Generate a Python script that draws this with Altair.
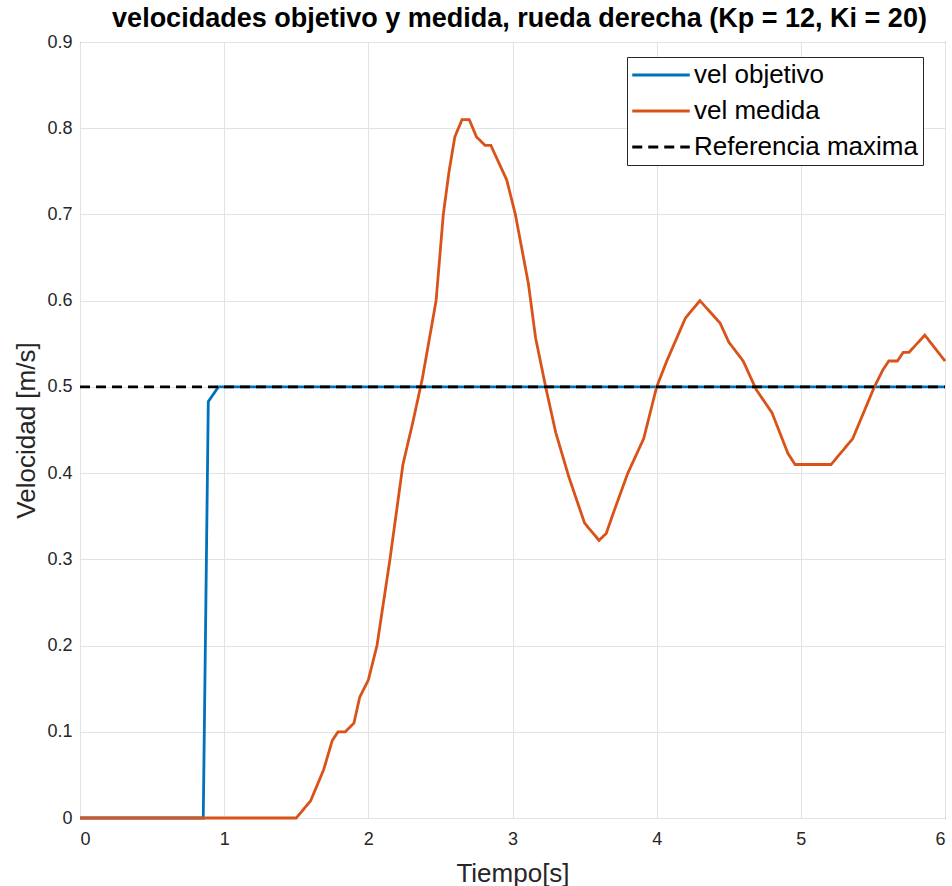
import altair as alt
import pandas as pd

# ---- data ----
series_names = ["vel objetivo", "vel medida", "Referencia maxima"]
series_colors = ["#0072BD", "#D95319", "#000000"]

t_objetivo = [0.0, 0.855, 0.89, 0.96, 6.0]
v_objetivo = [0.0, 0.0, 0.483, 0.5, 0.5]

t_medida = [0.0, 1.5, 1.6, 1.69, 1.75, 1.79, 1.84, 1.9, 1.94, 2.0, 2.06, 2.15,
            2.24, 2.31, 2.375, 2.47, 2.52, 2.56, 2.60, 2.65, 2.70, 2.75, 2.81,
            2.85, 2.96, 3.02, 3.11, 3.16, 3.23, 3.30, 3.39, 3.5, 3.6, 3.65, 3.70,
            3.80, 3.91, 4.0, 4.07, 4.2, 4.3, 4.44, 4.5, 4.6, 4.69, 4.80, 4.91,
            4.96, 5.21, 5.36, 5.51, 5.57, 5.61, 5.67, 5.71, 5.75, 5.86, 6.0]
v_medida = [0.0, 0.0, 0.02, 0.056, 0.09, 0.10, 0.10, 0.11, 0.14, 0.16, 0.20, 0.30,
            0.41, 0.46, 0.51, 0.60, 0.70, 0.75, 0.79, 0.81, 0.81, 0.79, 0.78,
            0.78, 0.74, 0.70, 0.62, 0.557, 0.50, 0.447, 0.396, 0.342, 0.322, 0.33, 0.354,
            0.40, 0.44, 0.50, 0.53, 0.58, 0.60, 0.574, 0.552, 0.53, 0.497, 0.47, 0.423,
            0.41, 0.41, 0.44, 0.50, 0.52, 0.53, 0.53, 0.54, 0.54, 0.56, 0.53]

t_ref = [0.0, 6.0]
v_ref = [0.5, 0.5]

x_ticks = [0, 1, 2, 3, 4, 5, 6]
y_ticks = [0, 0.1, 0.2, 0.3, 0.4, 0.5, 0.6, 0.7, 0.8, 0.9]

def frame(name, ts, vs):
    return pd.DataFrame({"serie": name, "t": ts, "v": vs})

df_obj = frame(series_names[0], t_objetivo, v_objetivo)
df_med = frame(series_names[1], t_medida, v_medida)
df_ref = frame(series_names[2], t_ref, v_ref)

FONT = "Liberation Sans"
TXT = "#262626"

x_enc = alt.X("t:Q", scale=alt.Scale(domain=[0, 6], nice=False),
              axis=alt.Axis(values=x_ticks, title="Tiempo[s]",
                            labelExpr="datum.value == 0 ? '0' : format(datum.value, 'd')",
                            titlePadding=12, labelPadding=12))
y_enc = alt.Y("v:Q", scale=alt.Scale(domain=[0, 0.9], nice=False),
              axis=alt.Axis(values=y_ticks, title="Velocidad [m/s]",
                            labelExpr="datum.value == 0 ? '0' : format(datum.value, '.1f')",
                            titlePadding=7, labelPadding=8))
color_enc = alt.Color("serie:N", scale=alt.Scale(domain=series_names, range=series_colors),
                      legend=alt.Legend(title=None))
dash_enc = alt.StrokeDash("serie:N",
                          scale=alt.Scale(domain=series_names, range=[[1, 0], [1, 0], [10, 6]]),
                          legend=alt.Legend(title=None))

def layer(df):
    return alt.Chart(df).mark_line(strokeWidth=2.8, strokeCap="butt").encode(
        x=x_enc, y=y_enc, color=color_enc, strokeDash=dash_enc)

chart = alt.layer(layer(df_obj), layer(df_med), layer(df_ref)).properties(
    width=865, height=776,
    background="white",
    title=alt.TitleParams("velocidades objetivo y medida, rueda derecha (Kp = 12, Ki = 20)",
                          font=FONT, fontSize=27, fontWeight="bold", color="#000000",
                          offset=0, dx=7, anchor="middle"),
    autosize=alt.AutoSizeParams(type="none"),
    padding={"left": 80, "top": 42, "right": 7, "bottom": 68},
).configure_view(
    stroke=TXT, strokeWidth=1
).configure_axis(
    grid=True, gridColor="#e3e3e3", gridWidth=1, domain=False, ticks=False,
    labelFont=FONT, labelFontSize=18, labelColor=TXT,
    titleFont=FONT, titleFontSize=26, titleFontWeight="normal", titleColor=TXT
).configure_legend(
    orient="none", legendX=547, legendY=15,
    strokeColor=TXT, fillColor="white", padding=5, cornerRadius=0,
    labelFont=FONT, labelFontSize=26, labelColor="#000000", labelLimit=400,
    symbolType="M-2.5,0H2.5", symbolSize=529, symbolStrokeWidth=3,
    symbolOffset=16, labelOffset=20, rowPadding=10
)

chart.save("out.html", embed_options={"renderer": "svg", "actions": False})
